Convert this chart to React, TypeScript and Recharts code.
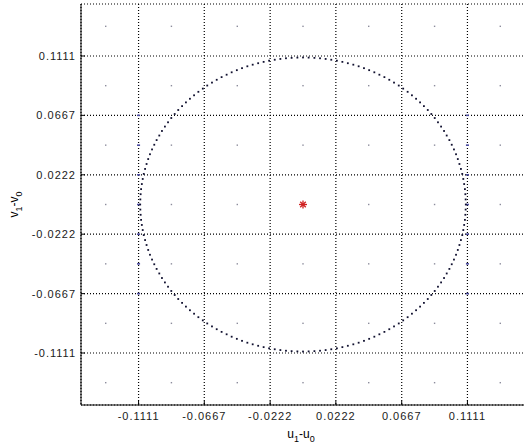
import {
    ScatterChart,
    Scatter,
    XAxis,
    YAxis,
    CartesianGrid
} from "recharts";

// tick values shown on both axes
const TICKS = [-0.1111, -0.0667, -0.0222, 0.0222, 0.0667, 0.1111];

// faint lattice of marks between grid lines
const LATTICE_U = [-0.1333, -0.0889, -0.0444, 0, 0.0444, 0.0889, 0.1333];
const LATTICE_V = [-0.1333, -0.0889, -0.0444, 0, 0.0444, 0.0889, 0.1333];

// bluish marks on the outer vertical grid lines
const EDGE_U = [-0.1111, 0.1111];
const EDGE_V = [0.0667, 0.0444, 0.0222, 0, -0.0222, -0.0444, -0.0667];

// ring of points (u1-u0, v1-v0)
const RING_U = [
    0.1100, 0.1099, 0.1097, 0.1094, 0.1089, 0.1083, 0.1076, 0.1067, 0.1057, 0.1046, 0.1034, 0.1020, 0.1005, 0.0989, 0.0971,
    0.0953, 0.0933, 0.0912, 0.0890, 0.0867, 0.0843, 0.0817, 0.0791, 0.0764, 0.0736, 0.0707, 0.0677, 0.0647, 0.0615, 0.0583,
    0.0550, 0.0516, 0.0482, 0.0447, 0.0412, 0.0376, 0.0340, 0.0303, 0.0266, 0.0229, 0.0191, 0.0153, 0.0115, 0.0077, 0.0038,
    0, -0.0038, -0.0077, -0.0115, -0.0153, -0.0191, -0.0229, -0.0266, -0.0303, -0.0340, -0.0376, -0.0412, -0.0447, -0.0482, -0.0516,
    -0.0550, -0.0583, -0.0615, -0.0647, -0.0677, -0.0707, -0.0736, -0.0764, -0.0791, -0.0817, -0.0843, -0.0867, -0.0890, -0.0912, -0.0933,
    -0.0953, -0.0971, -0.0989, -0.1005, -0.1020, -0.1034, -0.1046, -0.1057, -0.1067, -0.1076, -0.1083, -0.1089, -0.1094, -0.1097, -0.1099,
    -0.1100, -0.1099, -0.1097, -0.1094, -0.1089, -0.1083, -0.1076, -0.1067, -0.1057, -0.1046, -0.1034, -0.1020, -0.1005, -0.0989, -0.0971,
    -0.0953, -0.0933, -0.0912, -0.0890, -0.0867, -0.0843, -0.0817, -0.0791, -0.0764, -0.0736, -0.0707, -0.0677, -0.0647, -0.0615, -0.0583,
    -0.0550, -0.0516, -0.0482, -0.0447, -0.0412, -0.0376, -0.0340, -0.0303, -0.0266, -0.0229, -0.0191, -0.0153, -0.0115, -0.0077, -0.0038,
    0, 0.0038, 0.0077, 0.0115, 0.0153, 0.0191, 0.0229, 0.0266, 0.0303, 0.0340, 0.0376, 0.0412, 0.0447, 0.0482, 0.0516,
    0.0550, 0.0583, 0.0615, 0.0647, 0.0677, 0.0707, 0.0736, 0.0764, 0.0791, 0.0817, 0.0843, 0.0867, 0.0890, 0.0912, 0.0933,
    0.0953, 0.0971, 0.0989, 0.1005, 0.1020, 0.1034, 0.1046, 0.1057, 0.1067, 0.1076, 0.1083, 0.1089, 0.1094, 0.1097, 0.1099
];
const RING_V = [
    0, 0.0038, 0.0077, 0.0115, 0.0153, 0.0191, 0.0229, 0.0266, 0.0303, 0.0340, 0.0376, 0.0412, 0.0447, 0.0482, 0.0516,
    0.0550, 0.0583, 0.0615, 0.0647, 0.0677, 0.0707, 0.0736, 0.0764, 0.0791, 0.0817, 0.0843, 0.0867, 0.0890, 0.0912, 0.0933,
    0.0953, 0.0971, 0.0989, 0.1005, 0.1020, 0.1034, 0.1046, 0.1057, 0.1067, 0.1076, 0.1083, 0.1089, 0.1094, 0.1097, 0.1099,
    0.1100, 0.1099, 0.1097, 0.1094, 0.1089, 0.1083, 0.1076, 0.1067, 0.1057, 0.1046, 0.1034, 0.1020, 0.1005, 0.0989, 0.0971,
    0.0953, 0.0933, 0.0912, 0.0890, 0.0867, 0.0843, 0.0817, 0.0791, 0.0764, 0.0736, 0.0707, 0.0677, 0.0647, 0.0615, 0.0583,
    0.0550, 0.0516, 0.0482, 0.0447, 0.0412, 0.0376, 0.0340, 0.0303, 0.0266, 0.0229, 0.0191, 0.0153, 0.0115, 0.0077, 0.0038,
    0, -0.0038, -0.0077, -0.0115, -0.0153, -0.0191, -0.0229, -0.0266, -0.0303, -0.0340, -0.0376, -0.0412, -0.0447, -0.0482, -0.0516,
    -0.0550, -0.0583, -0.0615, -0.0647, -0.0677, -0.0707, -0.0736, -0.0764, -0.0791, -0.0817, -0.0843, -0.0867, -0.0890, -0.0912, -0.0933,
    -0.0953, -0.0971, -0.0989, -0.1005, -0.1020, -0.1034, -0.1046, -0.1057, -0.1067, -0.1076, -0.1083, -0.1089, -0.1094, -0.1097, -0.1099,
    -0.1100, -0.1099, -0.1097, -0.1094, -0.1089, -0.1083, -0.1076, -0.1067, -0.1057, -0.1046, -0.1034, -0.1020, -0.1005, -0.0989, -0.0971,
    -0.0953, -0.0933, -0.0912, -0.0890, -0.0867, -0.0843, -0.0817, -0.0791, -0.0764, -0.0736, -0.0707, -0.0677, -0.0647, -0.0615, -0.0583,
    -0.0550, -0.0516, -0.0482, -0.0447, -0.0412, -0.0376, -0.0340, -0.0303, -0.0266, -0.0229, -0.0191, -0.0153, -0.0115, -0.0077, -0.0038
];

// reference point
const CENTER_U = [0];
const CENTER_V = [0];

const FONT = "'Liberation Sans', Arial, sans-serif";

const ringData = RING_U.map((u, i) => ({ u, v: RING_V[i] }));
const latticeData = LATTICE_U.flatMap((u) => LATTICE_V.map((v) => ({ u, v })));
const edgeData = EDGE_U.flatMap((u) => EDGE_V.map((v) => ({ u, v })));
const centerData = CENTER_U.map((u, i) => ({ u, v: CENTER_V[i] }));

const RingDot = (props: any) => (
    <rect x={props.cx - 0.9} y={props.cy - 0.9} width={1.8} height={1.8} fill="#111130" />
);

const LatticeDot = (props: any) => (
    <rect x={props.cx - 0.7} y={props.cy - 0.7} width={1.4} height={1.4} fill="#8c8c9c" />
);

const EdgeDot = (props: any) => (
    <rect x={props.cx - 1.5} y={props.cy - 0.8} width={3} height={1.6} fill="#4a4aa0" />
);

const Star = (props: any) => {
    const { cx, cy } = props;
    const r = 4;
    const d = 2.8;
    return (
        <g stroke="#d02020" strokeWidth={1.3}>
            <line x1={cx - r} y1={cy} x2={cx + r} y2={cy} />
            <line x1={cx} y1={cy - r} x2={cx} y2={cy + r} />
            <line x1={cx - d} y1={cy - d} x2={cx + d} y2={cy + d} />
            <line x1={cx - d} y1={cy + d} x2={cx + d} y2={cy - d} />
        </g>
    );
};

const XLabel = (props: any) => {
    const vb = props.viewBox;
    const cx = vb.x + vb.width / 2 - 2;
    return (
        <text x={cx} y={438} textAnchor="middle" fontFamily={FONT} fontSize={12} fill="#000">
            <tspan>u</tspan>
            <tspan dy={4} fontSize={9}>1</tspan>
            <tspan dy={-4}>-u</tspan>
            <tspan dy={4} fontSize={9}>0</tspan>
        </text>
    );
};

const YLabel = (props: any) => {
    const vb = props.viewBox;
    const cy = vb.y + vb.height / 2;
    return (
        <text
            x={18}
            y={cy}
            transform={`rotate(-90 18 ${cy})`}
            textAnchor="middle"
            fontFamily={FONT}
            fontSize={12}
            fill="#000"
        >
            <tspan>v</tspan>
            <tspan dy={4} fontSize={9}>1</tspan>
            <tspan dy={-4}>-v</tspan>
            <tspan dy={4} fontSize={9}>0</tspan>
        </text>
    );
};

const fmt = (v: number) => v.toFixed(4);

export default function App() {
    const tickStyle = { fontFamily: FONT, fontSize: 11, fill: "#1a1a1a", letterSpacing: 1 };
    return (
        <div style={{ position: "absolute", left: 0, top: 0, width: 524, height: 447, overflow: "hidden", background: "#fff" }}>
            <ScatterChart width={527} height={447} margin={{ top: 4, right: 2, bottom: 12, left: 9 }}>
                <CartesianGrid stroke="#000" strokeDasharray="1 2" strokeWidth={1.2} />
                <XAxis
                    dataKey="u"
                    type="number"
                    domain={[-0.15, 0.15]}
                    ticks={TICKS}
                    tickFormatter={fmt}
                    tickSize={-4}
                    tickMargin={11}
                    tickLine={{ stroke: "#000" }}
                    axisLine={{ stroke: "#000" }}
                    tick={tickStyle}
                    height={30}
                    allowDataOverflow
                    label={{ content: XLabel }}
                />
                <XAxis
                    xAxisId="top"
                    orientation="top"
                    dataKey="u"
                    type="number"
                    domain={[-0.15, 0.15]}
                    ticks={TICKS}
                    tick={false}
                    tickSize={-4}
                    tickLine={{ stroke: "#000" }}
                    axisLine={{ stroke: "#000" }}
                    height={0}
                    allowDataOverflow
                />
                <YAxis
                    dataKey="v"
                    type="number"
                    domain={[-0.15, 0.15]}
                    ticks={TICKS}
                    tickFormatter={fmt}
                    tickSize={-4}
                    tickMargin={9}
                    tickLine={{ stroke: "#000" }}
                    axisLine={{ stroke: "#000" }}
                    tick={tickStyle}
                    width={72}
                    allowDataOverflow
                    label={{ content: YLabel }}
                />
                <YAxis
                    yAxisId="right"
                    orientation="right"
                    dataKey="v"
                    type="number"
                    domain={[-0.15, 0.15]}
                    tick={false}
                    tickLine={false}
                    axisLine={{ stroke: "#000" }}
                    width={0}
                    allowDataOverflow
                />
                <Scatter data={latticeData} shape={LatticeDot} isAnimationActive={false} />
                <Scatter data={edgeData} shape={EdgeDot} isAnimationActive={false} />
                <Scatter data={ringData} shape={RingDot} isAnimationActive={false} />
                <Scatter data={centerData} shape={Star} isAnimationActive={false} />
            </ScatterChart>
        </div>
    );
}
